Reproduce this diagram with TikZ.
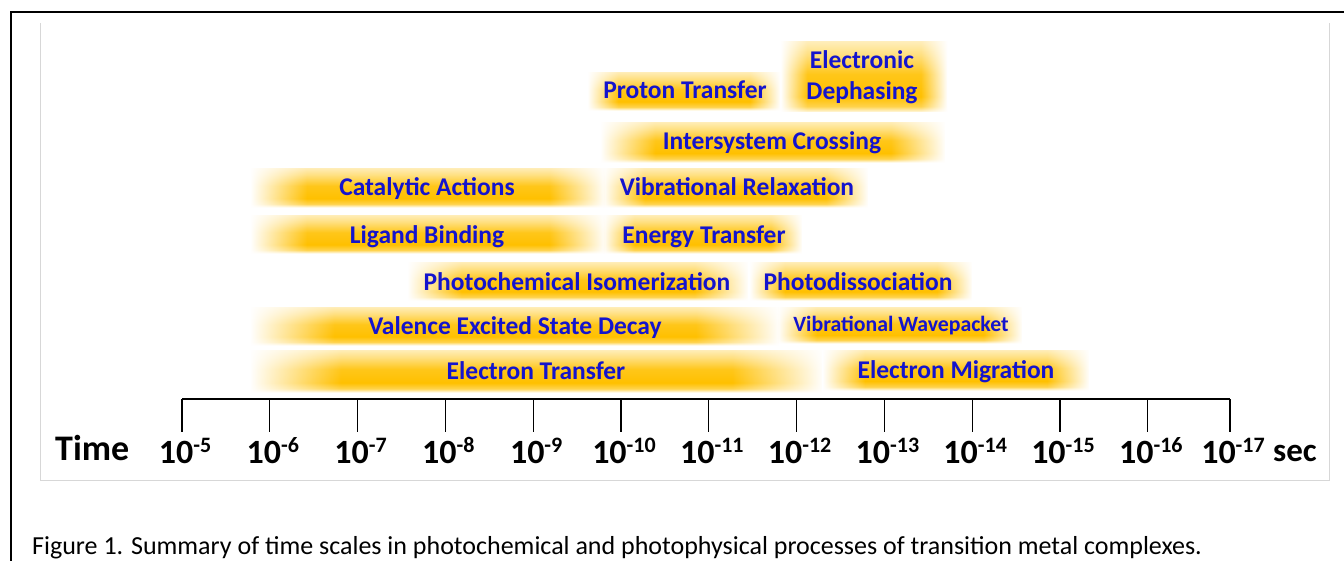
\documentclass[tikz,border=0pt]{standalone}
\usepackage{fontspec}
\setmainfont{Carlito}
\usetikzlibrary{fadings}
\definecolor{barorange}{RGB}{255,192,0}
\definecolor{lblblue}{RGB}{20,20,205}
\definecolor{panelgray}{RGB}{215,215,215}
\pgfdeclareverticalshading{barshade}{100bp}{color(0bp)=(barorange!10); color(25bp)=(barorange!10); color(29bp)=(barorange!70); color(36bp)=(barorange); color(52bp)=(barorange!90); color(66bp)=(barorange!50); color(75bp)=(barorange!28); color(100bp)=(barorange!28)}
\pgfdeclarehorizontalshading{lrmask}{100bp}{color(0bp)=(black); color(25bp)=(black); color(33bp)=(white); color(67bp)=(white); color(75bp)=(black); color(100bp)=(black)}
\tikzfading[name=lrfade, shading=lrmask]
\newcommand\gbar[4]{\shade[shading=barshade, path fading=lrfade, fit fading=true] (#1,#2) rectangle (#3,#4);}
\newcommand\supx[1]{\raisebox{10.5pt}{\fontsize{22}{22}\selectfont #1}}
\tikzset{
  lbl/.style={font=\bfseries\fontsize{25.5}{31}\selectfont, text=lblblue, anchor=base, inner sep=0pt, align=center},
  axlbl/.style={font=\bfseries\fontsize{34}{36}\selectfont, anchor=base, inner sep=0pt},
  tickline/.style={line width=1.2pt, black},
}
\begin{document}
\begin{tikzpicture}[x=1pt,y=-1pt]
\useasboundingbox (0,0) rectangle (1344,560);
\fill[white] (0,0) rectangle (1344,560);
% outer frame
\draw[line width=2pt, black] (11,561) -- (11,12) -- (1345,12);
% inner panel
\draw[line width=1pt, panelgray] (40,23) -- (40,480) -- (1329,480) -- (1329,23);
% bars
\gbar{588}{72}{780}{110}
\gbar{781}{42}{947}{112}
\gbar{601}{122}{945}{162}
\gbar{251}{168}{605}{207}
\gbar{603}{168}{868}{207}
\gbar{251}{215}{605}{253}
\gbar{603}{215}{802}{253}
\gbar{408}{262}{748}{300}
\gbar{750}{262}{972}{300}
\gbar{251}{307}{779}{345}
\gbar{778}{307}{1022}{343}
\gbar{251}{350}{822}{392}
\gbar{823}{350}{1089}{390}
% labels
\node[lbl] (proton) at (685,98.5) {Proton Transfer};
\node[lbl, anchor=center] (dephase) at (862,77) {Electronic\\Dephasing};
\node[lbl] (isc) at (772,149.5) {Intersystem Crossing};
\node[lbl] (cat) at (427,195.5) {Catalytic Actions};
\node[lbl] (vibrel) at (737,195.5) {Vibrational Relaxation};
\node[lbl] (ligand) at (427,243.5) {Ligand Binding};
\node[lbl] (energy) at (704,243.5) {Energy Transfer};
\node[lbl] (isom) at (577,290.5) {Photochemical Isomerization};
\node[lbl] (pdiss) at (858,290.5) {Photodissociation};
\node[lbl] (valence) at (515,334.5) {Valence Excited State Decay};
\node[lbl, font=\bfseries\fontsize{21.8}{25}\selectfont] (wavepk) at (901,331) {Vibrational Wavepacket};
\node[lbl] (etrans) at (536,379.5) {Electron Transfer};
\node[lbl] (emig) at (956,378.5) {Electron Migration};
% axis
\foreach \k/\x in {5/182,6/269.8,7/357.6,8/445.4,9/533.2,10/621,11/708.8,12/796.6,13/884.4,14/972.2,15/1060,16/1147.8,17/1230}{
  \coordinate (t\k) at (\x,399);
  \coordinate (b\k) at (\x,432);
  \draw[tickline] (t\k) -- (b\k);
  \node[axlbl] (l\k) at (\x+3,463) {10\supx{-\k}};
}
\draw[tickline] (t5) -- (t17);
\node[axlbl, font=\bfseries\fontsize{36}{38}\selectfont, anchor=base west] (time) at (55,460) {Time};
\node[axlbl, font=\bfseries\fontsize{33}{36}\selectfont, anchor=base west] (sec) at (1273,461) {sec};
% caption
\node[font=\fontsize{26}{30}\selectfont, anchor=base west, inner sep=0pt] (caption) at (32,554) {Figure 1. Summary of time scales in photochemical and photophysical processes of transition metal complexes.};
\end{tikzpicture}
\end{document}
